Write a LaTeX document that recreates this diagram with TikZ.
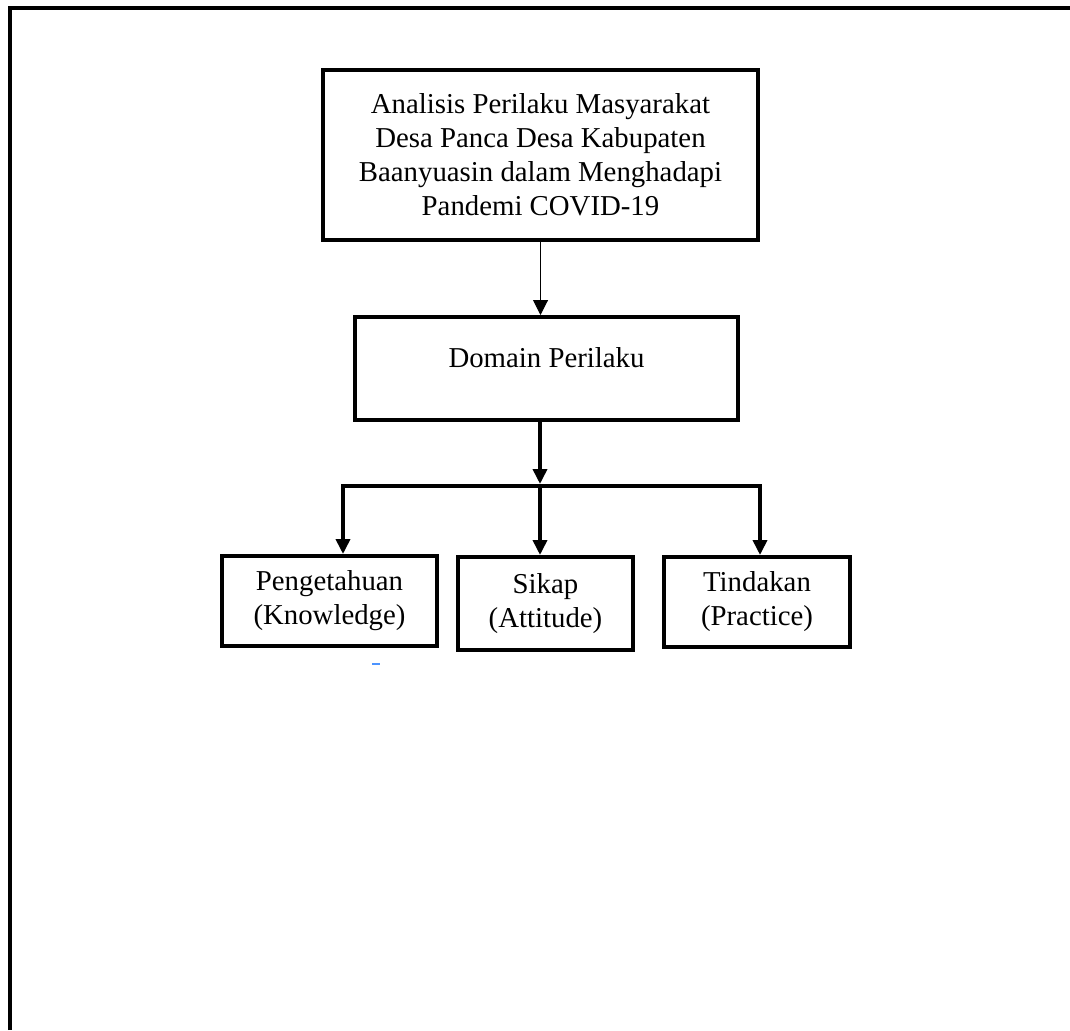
\documentclass[tikz,border=0pt]{standalone}
\usepackage{fontspec}
\setmainfont{Liberation Serif}
\usetikzlibrary{arrows.meta}

\begin{document}
\begin{tikzpicture}[
  x=0.5pt, y=-0.5pt,
  every node/.style={font=\fontsize{14.4}{17}\selectfont, align=center},
  box/.style={draw, line width=2pt, inner sep=0pt},
  thinarrow/.style={line width=0.5pt, -{Triangle[width=7.5pt,length=7.5pt]}},
  brancharrow/.style={line width=1.8pt, line join=miter,
                      -{Triangle[width=7pt,length=7.5pt]}},
]
\useasboundingbox (0,0) rectangle (1070,1030);
% page frame (top and left side only)
\draw[line width=2pt] (10,1030) -- (10,8) -- (1070,8);

\node[box, minimum width=217.5pt, minimum height=85pt] (judul) at (540.5,155)
  {Analisis Perilaku Masyarakat\\Desa Panca Desa Kabupaten\\Baanyuasin dalam Menghadapi\\Pandemi COVID-19};
\node[box, minimum width=191.5pt, text height=25pt, text depth=26.5pt] (domain) at (546.5,368.5)
  {Domain Perilaku};

\node[box, minimum width=107.5pt, minimum height=45pt] (tahu) at (329.5,601)
  {Pengetahuan\\(Knowledge)};
\node[box, minimum width=87.5pt, minimum height=46.5pt] (sikap) at (545.5,603.5)
  {Sikap\\(Attitude)};
\node[box, minimum width=93pt, minimum height=45pt] (tindak) at (757,602)
  {Tindakan\\(Practice)};

\coordinate (cabang) at (540,486);
\coordinate (kiri) at (343,486);
\coordinate (kanan) at (760,486);

\draw[thinarrow] (judul.south) -- (judul.south |- domain.north);
\draw[brancharrow] (domain.south -| cabang) -- ([yshift=1pt]cabang);
\draw[brancharrow, {Triangle[width=7pt,length=7.5pt]}-{Triangle[width=7pt,length=7.5pt]}]
  (kiri |- tahu.north) -- (kiri) -- (kanan) -- (kanan |- tindak.north);
\draw[brancharrow] (cabang) -- (cabang |- sikap.north);

% small blue mark
\draw[blue!60!cyan!70, line width=1pt] (372,664) -- (380,664);
\end{tikzpicture}
\end{document}
